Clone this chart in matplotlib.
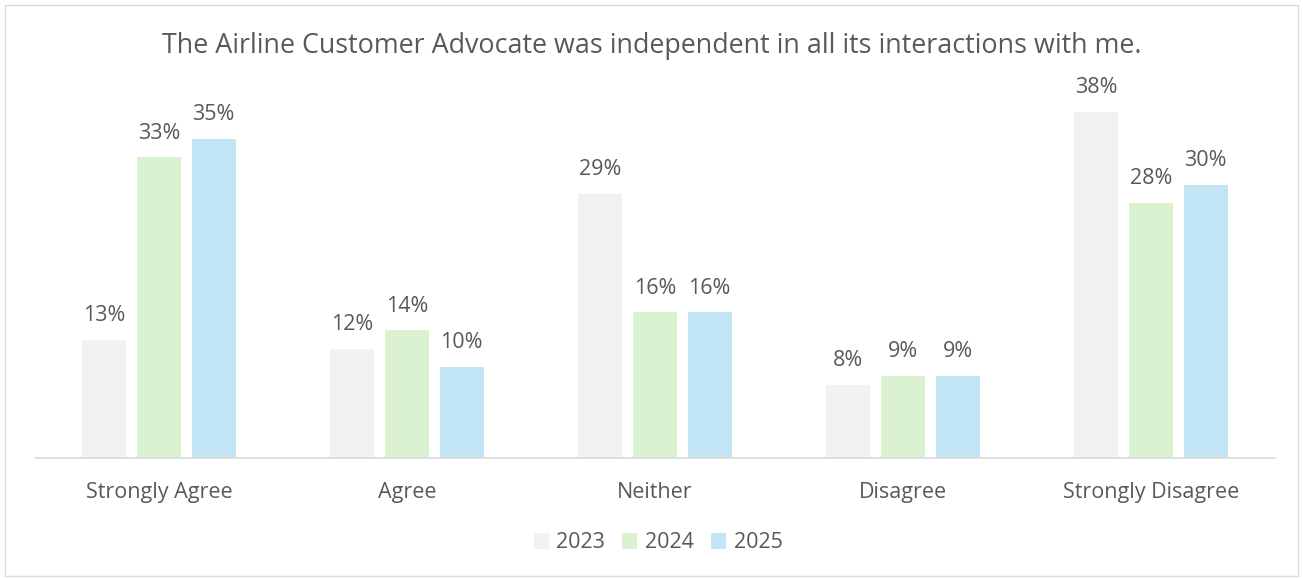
import matplotlib
matplotlib.use("Agg")
import matplotlib.pyplot as plt
from matplotlib.patches import Rectangle
import numpy as np

categories = ["Strongly Agree", "Agree", "Neither", "Disagree", "Strongly Disagree"]
years = ["2023", "2024", "2025"]
v2023 = [13, 12, 29, 8, 38]
v2024 = [33, 14, 16, 9, 28]
v2025 = [35, 10, 16, 9, 30]
colors = ["#F2F2F2", "#DAF2D0", "#C1E5F5"]
title = "The Airline Customer Advocate was independent in all its interactions with me."

plt.rcParams['font.family'] = ['Open Sans', 'DejaVu Sans']
txt = "#595959"

fig = plt.figure(figsize=(13.03, 5.78), dpi=100)
fig.patches.append(Rectangle((5/1303, 2/578), 1293/1303, 571/578, transform=fig.transFigure,
                             fill=False, edgecolor="#D9D9D9", linewidth=1))
ax = fig.add_axes([35/1303, 120/578, 1240/1303, 364.4/578])
x = np.arange(len(categories))
w = 0.177
offs = [-0.22, 0.0, 0.22]
for vals, c, o, yname in zip([v2023, v2024, v2025], colors, offs, years):
    bars = ax.bar(x + o, vals, width=w, color=c, label=yname)
    for b, v in zip(bars, vals):
        ax.text(b.get_x() + b.get_width()/2, v + 1.5, f"{v}%", ha="center", va="bottom",
                fontsize=15.5, color=txt)
ax.set_xlim(-0.5, 4.5)
ax.set_ylim(0, 40)
ax.set_yticks([])
ax.set_xticks(x)
ax.set_xticklabels(categories, fontsize=15.5, color=txt)
ax.tick_params(axis="x", length=0, pad=17)
for s in ["top", "left", "right"]:
    ax.spines[s].set_visible(False)
ax.spines["bottom"].set_color("#D9D9D9")
ax.spines["bottom"].set_linewidth(1.2)
fig.text(0.5, 1 - 46/578, title, ha="center", va="center", fontsize=19.4, color=txt)
leg = fig.legend(loc="center", bbox_to_anchor=(658/1303, 1 - 543/578), ncol=3, frameon=False,
                 fontsize=15.5, handlelength=0.7, handleheight=0.7, handletextpad=0.35,
                 columnspacing=0.8, labelcolor=txt)
fig.savefig("out.png", dpi=100)
